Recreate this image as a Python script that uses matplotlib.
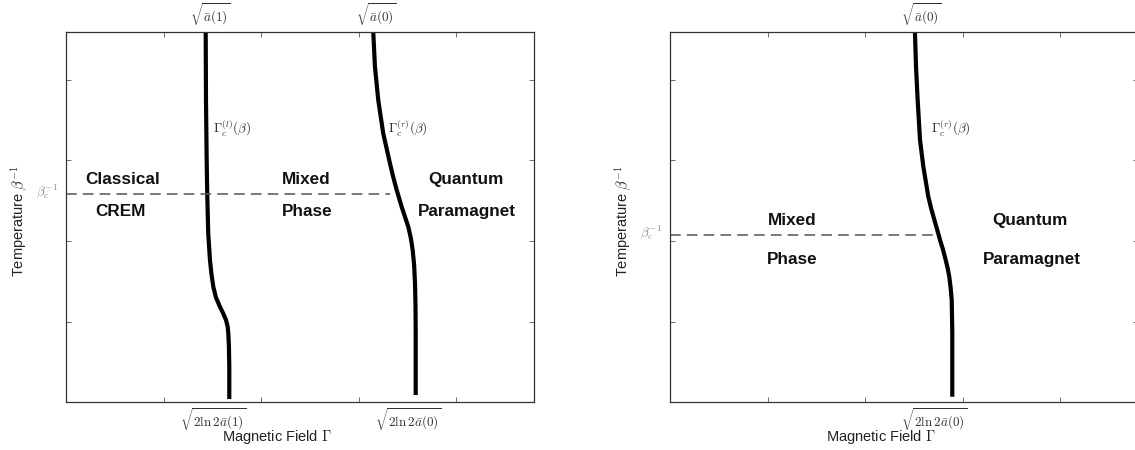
import numpy as np
import matplotlib
matplotlib.use("Agg")
import matplotlib.pyplot as plt

plt.rcParams['font.family'] = ['Liberation Sans', 'DejaVu Sans']
plt.rcParams['mathtext.fontset'] = 'cm'

# 相图数据（从图中读取，x 为磁场，y 为温度）
left_curve_l_x = [1.430, 1.433, 1.440, 1.446, 1.456, 1.474, 1.488, 1.508, 1.535, 1.576,
                  1.610, 1.638, 1.655, 1.662, 1.668, 1.672, 1.672]
left_curve_l_y = [4.585, 3.742, 3.000, 2.566, 2.094, 1.760, 1.600, 1.433, 1.300, 1.185,
                  1.100, 1.020, 0.940, 0.855, 0.700, 0.440, 0.040]

left_curve_r_x = [3.149, 3.166, 3.200, 3.251, 3.320, 3.352, 3.389, 3.440, 3.508, 3.535,
                  3.553, 3.568, 3.577, 3.582, 3.584, 3.584]
left_curve_r_y = [4.585, 4.159, 3.746, 3.333, 2.962, 2.800, 2.631, 2.424, 2.176, 2.030,
                  1.887, 1.700, 1.474, 1.200, 0.855, 0.090]

right_curve_x = [2.509, 2.520, 2.537, 2.561, 2.595, 2.646, 2.676, 2.708, 2.737, 2.766,
                 2.795, 2.824, 2.845, 2.861, 2.875, 2.886, 2.889, 2.892, 2.892]
right_curve_y = [4.585, 4.159, 3.746, 3.253, 2.922, 2.550, 2.400, 2.262, 2.140, 2.014,
                 1.900, 1.766, 1.660, 1.560, 1.420, 1.274, 1.100, 0.855, 0.069]

beta_c_left = 2.577      # 左图 β_c^{-1}
dash_end_left = 3.32
beta_c_right = 2.073     # 右图 β_c^{-1}
dash_end_right = 2.732

left_top_ticks = [1.474, 3.176]
left_top_labels = [r'$\sqrt{\bar{a}(1)}$', r'$\sqrt{\bar{a}(0)}$']
left_bot_ticks = [1.508, 3.508]
left_bot_labels = [r'$\sqrt{2\ln 2\bar{a}(1)}$', r'$\sqrt{2\ln 2\bar{a}(0)}$']

right_top_ticks = [2.578]
right_top_labels = [r'$\sqrt{\bar{a}(0)}$']
right_bot_ticks = [2.708]
right_bot_labels = [r'$\sqrt{2\ln 2\bar{a}(0)}$']

XMAX = 4.8
YMAX = 4.585

fig = plt.figure(figsize=(11.35, 4.5), dpi=100)
ax1 = fig.add_axes([0.0584, 0.106, 0.4123, 0.822])
ax2 = fig.add_axes([0.5906, 0.106, 0.4123, 0.822])

spine_col = '#333333'
math_col = '#333333'


def setup(ax, beta_c):
    ax.set_xlim(0, XMAX)
    ax.set_ylim(0, YMAX)
    ax.set_xticks([1, 2, 3, 4])
    ax.set_yticks([1, 2, 3, 4])
    ax.set_xticklabels([])
    ax.set_yticklabels([])
    ax.tick_params(direction='in', length=3.5, width=0.6, color='#555555',
                   top=True, right=True)
    for s in ax.spines.values():
        s.set_color(spine_col)
        s.set_linewidth(0.9)
    ax.set_xlabel(r'Magnetic Field $\Gamma$', fontsize=10.5, color='#222222', va='center')
    ax.xaxis.set_label_coords(0.45, -0.093)
    ax.set_ylabel(r'Temperature $\beta^{\mathsf{-1}}$', fontsize=10.5, color='#222222',
                  va='center')
    ax.yaxis.set_label_coords(-0.101, 0.49)
    ax.text(-0.2, beta_c + 0.03, r'$\beta_c^{-1}$', fontsize=9.5, color='#8a8a8a',
            ha='center', va='center', clip_on=False)


def math_ticks(ax, xs, labels, y):
    for x, lab in zip(xs, labels):
        ax.text(x, y, lab, fontsize=9.5, color=math_col, ha='center', va='center',
                clip_on=False)


setup(ax1, beta_c_left)
ax1.plot(left_curve_l_x, left_curve_l_y, color='black', lw=3, solid_capstyle='butt',
         solid_joinstyle='round')
ax1.plot(left_curve_r_x, left_curve_r_y, color='black', lw=3, solid_capstyle='butt',
         solid_joinstyle='round')
ax1.plot([0, dash_end_left], [beta_c_left, beta_c_left], color='#555555', lw=1.1,
         dashes=(7, 4))
math_ticks(ax1, left_top_ticks, left_top_labels, 4.80)
math_ticks(ax1, left_bot_ticks, left_bot_labels, -0.21)
ax1.text(1.508, 3.403, r'$\Gamma_c^{(l)}(\beta)$', fontsize=9.5, color=math_col,
         ha='left', va='center')
ax1.text(3.303, 3.403, r'$\Gamma_c^{(r)}(\beta)$', fontsize=9.5, color=math_col,
         ha='left', va='center')

bold = dict(fontsize=12.3, fontweight='bold', ha='center', va='center', color='#111111')
ax1.text(0.578, 2.767, 'Classical', **bold)
ax1.text(0.558, 2.370, 'CREM', **bold)
ax1.text(2.458, 2.767, 'Mixed', **bold)
ax1.text(2.466, 2.370, 'Phase', **bold)
ax1.text(4.10, 2.767, 'Quantum', **bold)
ax1.text(4.113, 2.370, 'Paramagnet', **bold)

setup(ax2, beta_c_right)
ax2.plot(right_curve_x, right_curve_y, color='black', lw=3, solid_capstyle='butt',
         solid_joinstyle='round')
ax2.plot([0, dash_end_right], [beta_c_right, beta_c_right], color='#555555', lw=1.1,
         dashes=(7, 4))
math_ticks(ax2, right_top_ticks, right_top_labels, 4.80)
math_ticks(ax2, right_bot_ticks, right_bot_labels, -0.21)
ax2.text(2.674, 3.403, r'$\Gamma_c^{(r)}(\beta)$', fontsize=9.5, color=math_col,
         ha='left', va='center')
ax2.text(1.245, 2.259, 'Mixed', **bold)
ax2.text(1.251, 1.764, 'Phase', **bold)
ax2.text(3.689, 2.259, 'Quantum', **bold)
ax2.text(3.707, 1.764, 'Paramagnet', **bold)

fig.savefig('out.png', dpi=100)
